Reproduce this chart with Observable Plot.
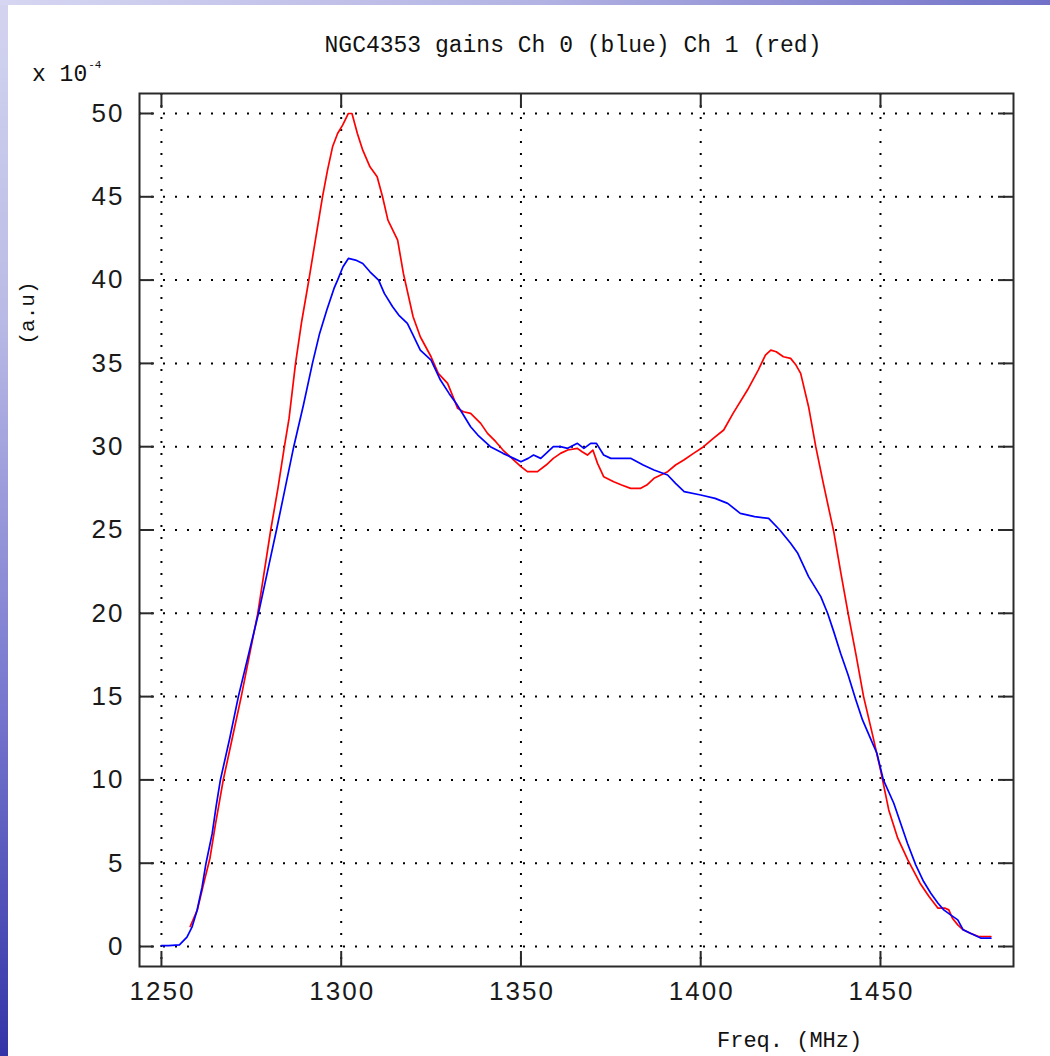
<!DOCTYPE html>
<html>
<head>
<meta charset="utf-8">
<script src="https://cdn.jsdelivr.net/npm/d3@7"></script>
<script src="https://cdn.jsdelivr.net/npm/@observablehq/plot@0.6"></script>
<style>
  html, body { margin: 0; padding: 0; }
  body {
    width: 1050px; height: 1056px; position: relative; overflow: hidden;
    background: linear-gradient(to bottom, #d4d4f0 0%, #babae6 30%, #7a7ad0 65%, #3434a8 100%);
  }
  #topstrip { position: absolute; left: 0; top: 0; width: 1050px; height: 5px;
    background: linear-gradient(to right, #d6d6f2 0%, #b4b4e4 50%, #7070c8 100%); }
  #panel { position: absolute; left: 8px; top: 5px; width: 1042px; height: 1051px; background: #fff; }
  #chart { position: absolute; left: 0; top: 0; }
  #chart svg text { letter-spacing: 2px; }
  .lbl { position: absolute; font-family: "Liberation Mono", "DejaVu Sans Mono", monospace; color: #111; white-space: nowrap; }
  #title { left: 0; width: 1146px; text-align: center; top: 33px; font-size: 23px; }
  #scale { left: 32px; top: 62px; font-size: 23px; }
  #scale sup { font-size: 11px; position: relative; top: -4px; margin-left: 1px; }
  #ylab { left: 28px; top: 313px; font-size: 21px; transform: translate(-50%, -50%) rotate(-90deg); }
  #xlab { left: 717px; top: 1029px; font-size: 22px; }
</style>
</head>
<body>
<div id="topstrip"></div>
<div id="panel"></div>
<div id="chart"></div>
<div class="lbl" id="title">NGC4353 gains Ch 0 (blue) Ch 1 (red)</div>
<div class="lbl" id="scale">x 10<sup>-4</sup></div>
<div class="lbl" id="ylab">(a.u)</div>
<div class="lbl" id="xlab">Freq. (MHz)</div>
<script>
// Tick values
const xTicks = [1250, 1300, 1350, 1400, 1450];
const yTicks = [0, 5, 10, 15, 20, 25, 30, 35, 40, 45, 50];

// Ch 0 (blue)
const freq0 = [1250, 1252, 1255, 1257.1, 1258.5, 1259.9, 1261.3, 1262.4, 1264.1, 1265.2, 1266.4, 1269, 1271.4, 1274.2, 1277, 1279.5, 1282, 1284.4, 1286.8, 1289.5, 1292, 1294, 1296, 1298, 1299, 1300.5, 1302, 1304, 1306, 1308, 1310.4, 1312, 1314.3, 1316, 1318.4, 1320, 1322, 1325, 1327.6, 1330, 1332, 1334, 1336, 1338, 1341.5, 1345, 1348, 1350, 1352, 1353.5, 1355.5, 1357, 1359, 1361, 1363, 1365.7, 1367.5, 1369.4, 1371, 1373, 1375, 1380.5, 1384, 1387, 1390.8, 1393, 1395.4, 1400, 1404, 1407.5, 1411, 1415, 1418.9, 1422, 1425, 1427, 1430, 1433.4, 1435.3, 1437, 1438.9, 1441, 1443, 1445, 1447, 1449, 1450.8, 1453.7, 1455.6, 1457.5, 1459.8, 1462, 1464, 1466, 1467.6, 1469.5, 1471.5, 1473, 1475, 1478, 1480.7];
const ch0 = [0.05, 0.05, 0.1, 0.56, 1.16, 2.16, 3.56, 5.0, 6.76, 8.4, 10, 12.5, 15, 17.5, 20, 22.5, 25, 27.5, 30, 32.5, 35, 36.8, 38.2, 39.5, 40.0, 40.8, 41.3, 41.2, 41.0, 40.5, 40.0, 39.2, 38.4, 37.9, 37.4, 36.7, 35.8, 35.2, 34.0, 33.2, 32.6, 31.9, 31.2, 30.7, 30.0, 29.6, 29.3, 29.1, 29.3, 29.5, 29.3, 29.6, 30.0, 30.0, 29.9, 30.2, 29.9, 30.2, 30.2, 29.5, 29.3, 29.3, 28.9, 28.6, 28.3, 27.8, 27.3, 27.1, 26.9, 26.6, 26.0, 25.8, 25.7, 25.0, 24.2, 23.6, 22.2, 21.0, 20.0, 18.9, 17.6, 16.3, 14.9, 13.6, 12.6, 11.6, 10.0, 8.6, 7.4, 6.2, 4.9, 3.9, 3.2, 2.6, 2.2, 1.9, 1.6, 1.0, 0.8, 0.5, 0.5];

// Ch 1 (red)
const freq1 = [1258, 1260, 1262, 1263.5, 1265, 1267.2, 1269.7, 1272.2, 1274.5, 1276.8, 1278.6, 1280.4, 1282.4, 1284.2, 1285.5, 1287.3, 1289, 1291, 1292.9, 1294.8, 1296.2, 1297.6, 1299, 1300.4, 1302, 1303, 1304.5, 1306, 1308, 1310, 1311.5, 1313, 1315.7, 1317.3, 1320, 1322, 1325, 1327, 1329.6, 1332.4, 1334, 1336, 1338.8, 1340.7, 1343, 1345, 1348, 1350, 1351.8, 1354.6, 1357, 1359, 1361, 1363, 1365.7, 1367, 1368.5, 1370, 1371.3, 1373, 1375.8, 1378, 1380.5, 1383.3, 1385, 1387, 1390.8, 1393, 1395.3, 1398, 1400.8, 1403.5, 1406.4, 1409, 1413, 1416, 1418, 1419.5, 1421, 1423, 1425, 1426.5, 1427.8, 1430, 1432, 1434, 1437, 1439, 1441, 1443.2, 1445.3, 1447.8, 1450, 1452.3, 1454.8, 1457.6, 1461, 1463.5, 1466, 1468, 1469, 1470, 1471.5, 1473, 1475, 1477.3, 1480.7];
const ch1 = [1.2, 2.2, 4.0, 5.3, 7.3, 10.0, 12.5, 15.0, 17.5, 20.0, 22.5, 25.0, 27.5, 30.0, 31.7, 35.0, 37.5, 40.0, 42.5, 45.0, 46.6, 48.0, 48.8, 49.3, 50.0, 50.0, 48.8, 47.8, 46.8, 46.2, 45.0, 43.6, 42.4, 40.4, 37.8, 36.6, 35.4, 34.4, 33.8, 32.3, 32.1, 32.0, 31.4, 30.8, 30.3, 29.8, 29.2, 28.8, 28.5, 28.5, 28.9, 29.3, 29.6, 29.8, 29.9, 29.7, 29.5, 29.8, 29.0, 28.2, 27.9, 27.7, 27.5, 27.5, 27.7, 28.1, 28.5, 28.9, 29.2, 29.6, 30.0, 30.5, 31.0, 32.0, 33.4, 34.6, 35.5, 35.8, 35.7, 35.4, 35.3, 34.9, 34.4, 32.4, 30.0, 27.9, 24.9, 22.4, 20.0, 17.5, 15.0, 12.7, 10.6, 8.2, 6.5, 5.2, 3.8, 3.0, 2.3, 2.3, 2.2, 1.7, 1.3, 1.0, 0.8, 0.6, 0.6];

const blue = freq0.map((f, i) => ({f, v: ch0[i]}));
const red = freq1.map((f, i) => ({f, v: ch1[i]}));

const W = 1050, H = 1056;
const mL = 139, mR = 37, mT = 93, mB = 90;
const innerW = W - mL - mR, innerH = H - mT - mB;
const tickLen = 15;
const ink = "#2a2a2a";

const chart = Plot.plot({
  width: W,
  height: H,
  marginLeft: mL, marginRight: mR, marginTop: mT, marginBottom: mB,
  style: {background: "transparent", fontFamily: "'Liberation Sans', Arimo, sans-serif", fontSize: "26px", color: "#1a1a1a"},
  x: {domain: [1243.9, 1487], label: null},
  y: {domain: [-1.2, 51.2], label: null},
  marks: [
    Plot.gridX(xTicks, {stroke: "#000", strokeOpacity: 1, strokeWidth: 2, strokeDasharray: "2,10"}),
    Plot.gridY(yTicks, {stroke: "#000", strokeOpacity: 1, strokeWidth: 2, strokeDasharray: "2,10"}),
    Plot.tickX(xTicks, {x: d => d, stroke: ink, strokeWidth: 2, insetTop: innerH - tickLen}),
    Plot.tickX(xTicks, {x: d => d, stroke: ink, strokeWidth: 2, insetBottom: innerH - tickLen}),
    Plot.tickY(yTicks, {y: d => d, stroke: ink, strokeWidth: 2, insetRight: innerW - tickLen}),
    Plot.tickY(yTicks, {y: d => d, stroke: ink, strokeWidth: 2, insetLeft: innerW - tickLen}),
    Plot.axisX(xTicks, {tickSize: 0, tickPadding: 15, dx: 1, tickFormat: d => String(d), label: null}),
    Plot.axisY(yTicks, {tickSize: 0, tickPadding: 15, tickFormat: d => String(d), label: null}),
    Plot.line(red, {x: "f", y: "v", stroke: "#ff0000", strokeWidth: 1.7}),
    Plot.line(blue, {x: "f", y: "v", stroke: "#0000ff", strokeWidth: 1.7}),
    Plot.frame({stroke: ink, strokeWidth: 2})
  ]
});
document.getElementById("chart").appendChild(chart);
</script>
</body>
</html>
